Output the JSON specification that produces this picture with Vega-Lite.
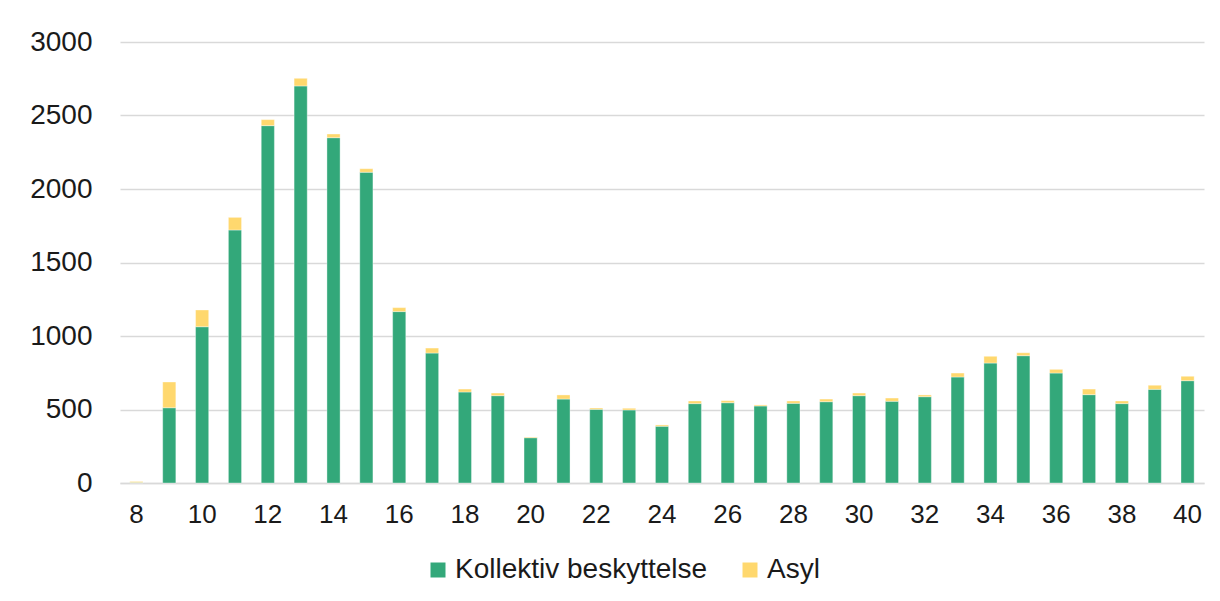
{
  "$schema": "https://vega.github.io/schema/vega-lite/v6.json",
  "autosize": {"type": "none"},
  "width": 1084,
  "height": 441,
  "padding": {"left": 120, "top": 42, "right": 16, "bottom": 118},
  "background": "white",
  "config": {
    "font": "Liberation Sans",
    "view": {"stroke": null}
  },
  "data": {
    "values": [
      {"uke": 8, "type": "Kollektiv beskyttelse", "antall": 3},
      {"uke": 8, "type": "Asyl", "antall": 7},
      {"uke": 9, "type": "Kollektiv beskyttelse", "antall": 512},
      {"uke": 9, "type": "Asyl", "antall": 175},
      {"uke": 10, "type": "Kollektiv beskyttelse", "antall": 1063},
      {"uke": 10, "type": "Asyl", "antall": 114},
      {"uke": 11, "type": "Kollektiv beskyttelse", "antall": 1721},
      {"uke": 11, "type": "Asyl", "antall": 86},
      {"uke": 12, "type": "Kollektiv beskyttelse", "antall": 2431},
      {"uke": 12, "type": "Asyl", "antall": 41},
      {"uke": 13, "type": "Kollektiv beskyttelse", "antall": 2701},
      {"uke": 13, "type": "Asyl", "antall": 52},
      {"uke": 14, "type": "Kollektiv beskyttelse", "antall": 2349},
      {"uke": 14, "type": "Asyl", "antall": 25},
      {"uke": 15, "type": "Kollektiv beskyttelse", "antall": 2114},
      {"uke": 15, "type": "Asyl", "antall": 24},
      {"uke": 16, "type": "Kollektiv beskyttelse", "antall": 1166},
      {"uke": 16, "type": "Asyl", "antall": 27},
      {"uke": 17, "type": "Kollektiv beskyttelse", "antall": 884},
      {"uke": 17, "type": "Asyl", "antall": 34},
      {"uke": 18, "type": "Kollektiv beskyttelse", "antall": 619},
      {"uke": 18, "type": "Asyl", "antall": 20},
      {"uke": 19, "type": "Kollektiv beskyttelse", "antall": 594},
      {"uke": 19, "type": "Asyl", "antall": 18},
      {"uke": 20, "type": "Kollektiv beskyttelse", "antall": 308},
      {"uke": 20, "type": "Asyl", "antall": 5},
      {"uke": 21, "type": "Kollektiv beskyttelse", "antall": 571},
      {"uke": 21, "type": "Asyl", "antall": 28},
      {"uke": 22, "type": "Kollektiv beskyttelse", "antall": 501},
      {"uke": 22, "type": "Asyl", "antall": 9},
      {"uke": 23, "type": "Kollektiv beskyttelse", "antall": 497},
      {"uke": 23, "type": "Asyl", "antall": 11},
      {"uke": 24, "type": "Kollektiv beskyttelse", "antall": 386},
      {"uke": 24, "type": "Asyl", "antall": 9},
      {"uke": 25, "type": "Kollektiv beskyttelse", "antall": 540},
      {"uke": 25, "type": "Asyl", "antall": 18},
      {"uke": 26, "type": "Kollektiv beskyttelse", "antall": 546},
      {"uke": 26, "type": "Asyl", "antall": 14},
      {"uke": 27, "type": "Kollektiv beskyttelse", "antall": 524},
      {"uke": 27, "type": "Asyl", "antall": 7},
      {"uke": 28, "type": "Kollektiv beskyttelse", "antall": 542},
      {"uke": 28, "type": "Asyl", "antall": 16},
      {"uke": 29, "type": "Kollektiv beskyttelse", "antall": 553},
      {"uke": 29, "type": "Asyl", "antall": 18},
      {"uke": 30, "type": "Kollektiv beskyttelse", "antall": 594},
      {"uke": 30, "type": "Asyl", "antall": 18},
      {"uke": 31, "type": "Kollektiv beskyttelse", "antall": 556},
      {"uke": 31, "type": "Asyl", "antall": 22},
      {"uke": 32, "type": "Kollektiv beskyttelse", "antall": 587},
      {"uke": 32, "type": "Asyl", "antall": 12},
      {"uke": 33, "type": "Kollektiv beskyttelse", "antall": 721},
      {"uke": 33, "type": "Asyl", "antall": 27},
      {"uke": 34, "type": "Kollektiv beskyttelse", "antall": 816},
      {"uke": 34, "type": "Asyl", "antall": 46},
      {"uke": 35, "type": "Kollektiv beskyttelse", "antall": 866},
      {"uke": 35, "type": "Asyl", "antall": 20},
      {"uke": 36, "type": "Kollektiv beskyttelse", "antall": 748},
      {"uke": 36, "type": "Asyl", "antall": 25},
      {"uke": 37, "type": "Kollektiv beskyttelse", "antall": 601},
      {"uke": 37, "type": "Asyl", "antall": 38},
      {"uke": 38, "type": "Kollektiv beskyttelse", "antall": 540},
      {"uke": 38, "type": "Asyl", "antall": 18},
      {"uke": 39, "type": "Kollektiv beskyttelse", "antall": 637},
      {"uke": 39, "type": "Asyl", "antall": 28},
      {"uke": 40, "type": "Kollektiv beskyttelse", "antall": 696},
      {"uke": 40, "type": "Asyl", "antall": 30}
    ]
  },
  "mark": {"type": "bar", "stroke": "white", "strokeWidth": 0.6, "strokeOpacity": 0.6},
  "encoding": {
    "x": {
      "field": "uke",
      "type": "ordinal",
      "sort": "ascending",
      "scale": {"paddingInner": 0.6, "paddingOuter": 0.3},
      "axis": {
        "title": null,
        "labelAngle": 0,
        "values": [8, 10, 12, 14, 16, 18, 20, 22, 24, 26, 28, 30, 32, 34, 36, 38, 40],
        "labelFontSize": 26,
        "labelColor": "#1a1a1a",
        "labelPadding": 18,
        "ticks": false,
        "domainColor": "#d9d9d9",
        "domainWidth": 1.5
      }
    },
    "y": {
      "field": "antall",
      "type": "quantitative",
      "aggregate": "sum",
      "stack": "zero",
      "scale": {"domain": [0, 3000], "nice": false},
      "axis": {
        "title": null,
        "format": "d",
        "values": [0, 500, 1000, 1500, 2000, 2500, 3000],
        "labelFontSize": 28,
        "labelColor": "#1a1a1a",
        "labelPadding": 28,
        "ticks": false,
        "domain": false,
        "gridColor": "#d9d9d9",
        "gridWidth": 1.5
      }
    },
    "color": {
      "field": "type",
      "type": "nominal",
      "scale": {"domain": ["Kollektiv beskyttelse", "Asyl"], "range": ["#33a87a", "#ffd86e"]},
      "legend": {
        "title": null,
        "orient": "none",
        "direction": "horizontal",
        "legendX": 304,
        "legendY": 514,
        "symbolType": "square",
        "symbolSize": 225,
        "symbolStrokeWidth": 0,
        "labelFontSize": 28,
        "labelLimit": 0,
        "labelColor": "#1a1a1a",
        "labelOffset": 3,
        "columnPadding": 28,
        "padding": 0
      }
    },
    "order": {"field": "type", "sort": "descending"}
  }
}
